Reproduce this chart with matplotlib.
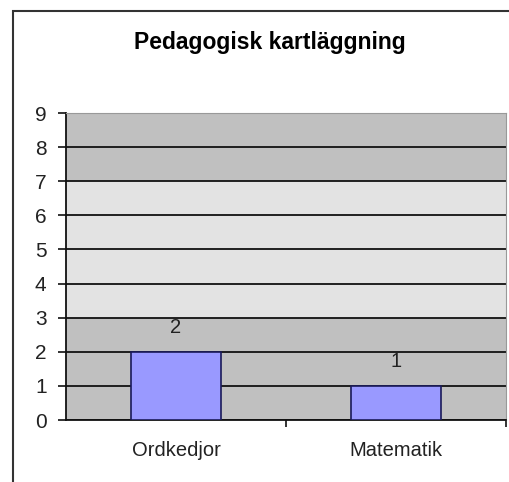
import matplotlib.pyplot as plt
from matplotlib.patches import Rectangle

categories = ['Ordkedjor', 'Matematik']
values = [2, 1]
y_ticks = list(range(0, 10))
bands = [(0, 3, '#c0c0c0'), (3, 7, '#e3e3e3'), (7, 9, '#c0c0c0')]

plt.rcParams['font.family'] = ['Liberation Sans', 'DejaVu Sans']

fig = plt.figure(figsize=(5.09, 4.82), dpi=100)
fig.patch.set_facecolor('white')

# outer chart frame, cut off on the right and bottom
frame = Rectangle((13 / 509, -0.1), 1.2, 1 - 11 / 482 + 0.1,
                  transform=fig.transFigure, fill=False,
                  edgecolor='#333333', linewidth=1.5, clip_on=False)
fig.patches.append(frame)

ax = fig.add_axes([66 / 509, 1 - 420 / 482, 440 / 509, 307 / 482])

for lo, hi, c in bands:
    ax.axhspan(lo, hi, color=c, zorder=0, linewidth=0)

ax.set_ylim(0, 9)
ax.set_xlim(-0.5, 1.5)
ax.set_yticks(y_ticks)
ax.yaxis.grid(True, color='#111111', linewidth=1.3, zorder=1)
ax.set_axisbelow(True)

x = list(range(len(categories)))
bars = ax.bar(x, values, width=0.405, color='#9999ff',
              edgecolor='#1a1a5a', linewidth=1.2, zorder=3)
for xi, v in zip(x, values):
    ax.text(xi, v + 0.72, str(v), ha='center', va='center',
            fontsize=14.5, color='#222222')

ax.set_xticks(x)
ax.set_xticklabels(categories, fontsize=14.5, color='#222222')
ax.tick_params(axis='x', length=0, pad=15)
ax.set_xticks([0.5, 1.5], minor=True)
ax.tick_params(axis='x', which='minor', direction='out', length=5,
               width=1.2, color='#111111')
ax.tick_params(axis='y', length=6, width=1.2, labelsize=15,
               labelcolor='#222222', color='#111111', pad=8)

ax.spines['left'].set_color('#111111')
ax.spines['left'].set_linewidth(1.3)
ax.spines['bottom'].set_color('#111111')
ax.spines['bottom'].set_linewidth(1.3)
ax.spines['top'].set_color('#999999')
ax.spines['right'].set_color('#999999')

fig.text(270 / 509, 1 - 43 / 482, 'Pedagogisk kartläggning',
         ha='center', va='center', fontsize=16.5, fontweight='bold')

fig.savefig('out.png', dpi=100)
